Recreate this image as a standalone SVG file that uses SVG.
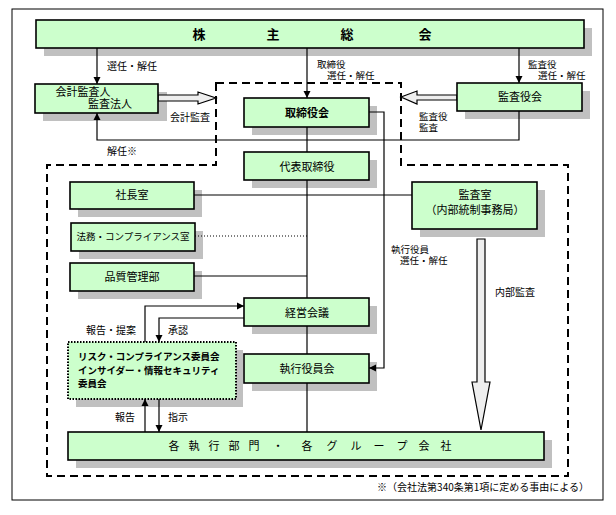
<svg xmlns="http://www.w3.org/2000/svg" width="616" height="515" viewBox="0 0 616 515">
<defs>
<style>
text{font-family:"Noto Sans CJK JP","Noto Sans",sans-serif;fill:#000}
.t{font-size:11px;text-anchor:middle}
.b{font-weight:bold}
.l{font-size:10px}
.s{font-size:9.5px}
.box{fill:#ccffcc;stroke:#000;stroke-width:1.6}
.sh{fill:#c0c0c0}
.ln{fill:none;stroke:#000;stroke-width:1.2}
.hol{fill:#eeeeee;stroke:#000;stroke-width:1.2}
</style>
<marker id="ah" markerUnits="userSpaceOnUse" markerWidth="8" markerHeight="8" refX="7" refY="4" orient="auto">
<path d="M0,0.5 L7,4 L0,7.5 Z" fill="#000"/>
</marker>
</defs>
<rect x="0" y="0" width="616" height="515" fill="#fff"/>
<rect x="12" y="9" width="591" height="491" fill="#fff" stroke="#000" stroke-width="1"/>
<path d="M216,83 H401 V165 H568 V476 H47 V165 H216 Z" fill="none" stroke="#000" stroke-width="2" stroke-dasharray="8,5"/>

<g id="shadows">
<rect class="sh" x="44" y="28" width="548" height="28"/>
<rect class="sh" x="43" y="92" width="124" height="29"/>
<rect class="sh" x="252" y="106" width="125" height="29"/>
<rect class="sh" x="465" y="91" width="125" height="28"/>
<rect class="sh" x="252" y="160" width="125" height="28"/>
<rect class="sh" x="78" y="190" width="124" height="27"/>
<rect class="sh" x="79" y="231" width="124" height="28"/>
<rect class="sh" x="78" y="271" width="124" height="28"/>
<rect class="sh" x="420" y="190" width="125" height="47"/>
<rect class="sh" x="252" y="306" width="125" height="28"/>
<rect class="sh" x="252" y="362" width="125" height="29"/>
<rect class="sh" x="76" y="350" width="167" height="57"/>
<rect class="sh" x="76" y="440" width="476" height="28"/>
</g>

<g id="connectors">
<line class="ln" x1="97" y1="48" x2="97" y2="84" marker-end="url(#ah)"/>
<line class="ln" x1="307" y1="48" x2="307" y2="98" marker-end="url(#ah)"/>
<line class="ln" x1="519" y1="48" x2="519" y2="83" marker-end="url(#ah)"/>
<polyline class="ln" points="519,111 519,140 97,140 97,113" marker-end="url(#ah)"/>
<line class="ln" x1="307" y1="127" x2="307" y2="432"/>
<polyline class="ln" points="369,112 384,112 384,368 369,368" marker-end="url(#ah)"/>
<line class="ln" x1="194" y1="195" x2="412" y2="195"/>
<line class="ln" x1="195" y1="236" x2="307" y2="236" stroke-dasharray="1,2"/>
<line class="ln" x1="194" y1="276" x2="307" y2="276"/>
<polyline class="ln" points="145,342 145,306 244,306" marker-end="url(#ah)"/>
<polyline class="ln" points="244,318 159,318 159,342" marker-end="url(#ah)"/>
<line class="ln" x1="145" y1="432" x2="145" y2="399" marker-end="url(#ah)"/>
<line class="ln" x1="159" y1="399" x2="159" y2="432" marker-end="url(#ah)"/>
<path class="hol" d="M158,95 H198 V92 L216,98 L198,104 V101 H158 Z"/>
<path class="hol" d="M457,95 H417 V91 L401,97 L417,104 V100 H457 Z"/>
<path class="hol" d="M477,239 H485 V382 H490 L481,430 L472,382 H477 Z"/>
</g>

<g id="shareholders">
<rect class="box" x="36" y="20" width="548" height="28"/>
<text class="b" font-size="13" text-anchor="middle" y="39"><tspan x="199">株</tspan><tspan x="273">主</tspan><tspan x="347">総</tspan><tspan x="425">会</tspan></text>
</g>
<g id="accounting-auditor">
<rect class="box" x="35" y="84" width="123" height="29"/>
<text class="t"><tspan x="83" y="96">会計監査人</tspan><tspan x="110" y="108">監査法人</tspan></text>
</g>
<g id="board">
<rect class="box" x="244" y="98" width="125" height="29"/>
<text class="t b" x="307" y="117">取締役会</text>
</g>
<g id="audit-board">
<rect class="box" x="457" y="83" width="125" height="28"/>
<text class="t" x="520" y="101">監査役会</text>
</g>
<g id="representative">
<rect class="box" x="244" y="152" width="125" height="28"/>
<text class="t" x="307" y="171">代表取締役</text>
</g>
<g id="president-office">
<rect class="box" x="70" y="182" width="124" height="27"/>
<text class="t" x="132" y="199">社長室</text>
</g>
<g id="legal">
<rect class="box" x="71" y="223" width="124" height="28"/>
<text class="s" text-anchor="middle" x="133" y="240">法務・コンプライアンス室</text>
</g>
<g id="quality">
<rect class="box" x="70" y="263" width="124" height="28"/>
<text class="t" x="132" y="281">品質管理部</text>
</g>
<g id="audit-office">
<rect class="box" x="412" y="182" width="125" height="47"/>
<text class="t"><tspan x="475" y="199">監査室</tspan><tspan x="475" y="214">（内部統制事務局）</tspan></text>
</g>
<g id="management-meeting">
<rect class="box" x="244" y="298" width="125" height="28"/>
<text class="t" x="307" y="317">経営会議</text>
</g>
<g id="executive-committee">
<rect class="box" x="244" y="354" width="125" height="29"/>
<text class="t" x="307" y="373">執行役員会</text>
</g>
<g id="risk-committee">
<rect x="68" y="342" width="168" height="57" fill="#ccffcc" stroke="#000" stroke-width="2" stroke-dasharray="1.5,1.5"/>
<text class="s b"><tspan x="78" y="360">リスク・コンプライアンス委員会</tspan><tspan x="78" y="374">インサイダー・情報セキュリティ</tspan><tspan x="78" y="387">委員会</tspan></text>
</g>
<g id="divisions">
<rect class="box" x="68" y="432" width="476" height="28"/>
<text font-size="11" text-anchor="middle" y="450"><tspan x="174">各</tspan><tspan x="194">執</tspan><tspan x="214">行</tspan><tspan x="234">部</tspan><tspan x="254">門</tspan><tspan x="278">・</tspan><tspan x="307">各</tspan><tspan x="332">グ</tspan><tspan x="356">ル</tspan><tspan x="379">ー</tspan><tspan x="402">プ</tspan><tspan x="424">会</tspan><tspan x="446">社</tspan></text>
</g>

<g id="labels">
<text class="l" x="107" y="70">選任・解任</text>
<text class="l" x="170" y="121">会計監査</text>
<text class="l" x="107" y="155">解任※</text>
<text class="s"><tspan x="317" y="68">取締役</tspan><tspan x="327" y="79">選任・解任</tspan></text>
<text class="s"><tspan x="528" y="68">監査役</tspan><tspan x="538" y="79">選任・解任</tspan></text>
<text class="s"><tspan x="419" y="120">監査役</tspan><tspan x="419" y="131">監査</tspan></text>
<text class="s"><tspan x="391" y="253">執行役員</tspan><tspan x="400" y="264">選任・解任</tspan></text>
<text class="l" x="495" y="296">内部監査</text>
<text class="l" x="86" y="334">報告・提案</text>
<text class="l" x="168" y="334">承認</text>
<text class="l" x="115" y="421">報告</text>
<text class="l" x="168" y="421">指示</text>
<text class="l" text-anchor="end" x="589" y="491">※（会社法第340条第1項に定める事由による）</text>
</g>
</svg>
